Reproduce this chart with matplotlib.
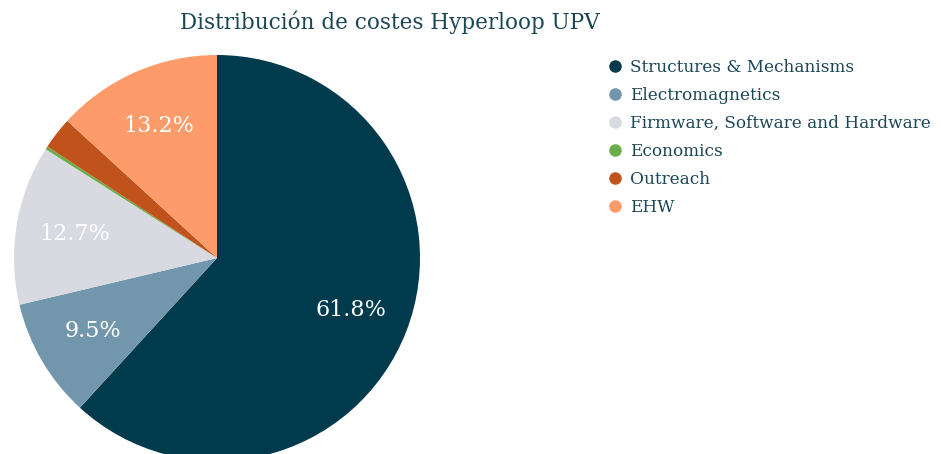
import matplotlib
matplotlib.use("Agg")
import matplotlib.pyplot as plt
from matplotlib.lines import Line2D

categories = ["Structures & Mechanisms", "Electromagnetics",
              "Firmware, Software and Hardware", "Economics", "Outreach", "EHW"]
values = [61.8, 9.5, 12.7, 0.25, 2.55, 13.2]
colors = ["#003a4d", "#7297ac", "#d9d9e1", "#6aaf4a", "#c0531b", "#fd9b6b"]

text_color = "#1b4656"
plt.rcParams["font.family"] = ["DejaVu Serif"]

W, H = 941, 454
fig = plt.figure(figsize=(W / 100, H / 100), dpi=100)

# pie axes: centre (217, 258) px from top-left, radius ~203 px
cx, cy, r = 217, 258, 203
ax = fig.add_axes([(cx - r) / W, (H - cy - r) / H, 2 * r / W, 2 * r / H])
wedges, texts, autotexts = ax.pie(
    values, colors=colors, startangle=90, counterclock=False,
    autopct=lambda p: f"{p:.1f}%" if p > 5 else "", pctdistance=0.71,
    textprops=dict(color="white", fontsize=16))
for w in wedges:
    w.set_clip_on(False)
ax.set_xlim(-1, 1)
ax.set_ylim(-1, 1)
ax.set_aspect("equal")
ax.axis("off")

fig.text(390 / W, 1 - 22 / H, "Distribución de costes Hyperloop UPV",
         ha="center", va="center", fontsize=15.5, color=text_color)

handles = [Line2D([], [], marker="o", linestyle="", markersize=8,
                  markerfacecolor=c, markeredgecolor=c) for c in colors]
leg = fig.legend(handles, categories, loc="upper left",
                 bbox_to_anchor=(601 / W, 1 - 52 / H), frameon=False,
                 fontsize=12.2, handlelength=0.8, handletextpad=0.5,
                 labelspacing=0.65, borderaxespad=0)
for t in leg.get_texts():
    t.set_color(text_color)

fig.savefig("out.png", dpi=100)
